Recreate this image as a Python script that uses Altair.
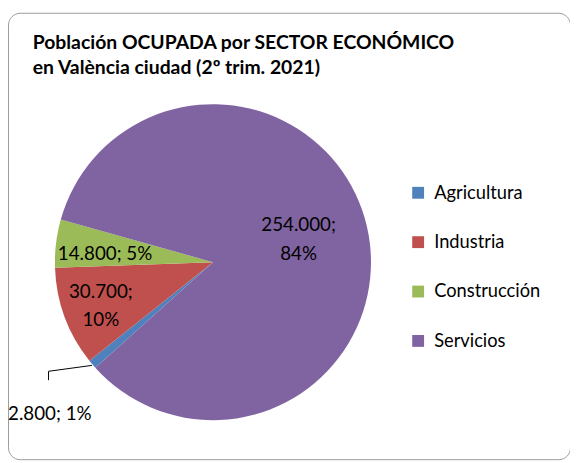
import math
import altair as alt
import pandas as pd

sectores = ["Agricultura", "Industria", "Construcción", "Servicios"]
ocupados = [2800, 30700, 14800, 254000]
colores = ["#4F81BD", "#C0504D", "#9BBB59", "#8064A2"]
titulo = ["Población OCUPADA por SECTOR ECONÓMICO", "en València ciudad (2º trim. 2021)"]
partidas = ["Industria", "Servicios"]  # labels shown on two lines

total = sum(ocupados)


def miles(v):
    return f"{v:,}".replace(",", ".")


etiquetas = []
for s, v in zip(sectores, ocupados):
    sep = ";\n" if s in partidas else "; "
    etiquetas.append(f"{miles(v)}{sep}{round(100 * v / total)}%")

df = pd.DataFrame({
    "sector": sectores,
    "ocupados": ocupados,
    "orden": list(range(len(sectores))),
    "etiqueta": etiquetas,
})

FONT = "Lato"
CX, CY, R = 207.5, 252.5, 160
T0 = math.radians(228.1)

base = alt.Chart(df).encode(
    theta=alt.Theta("ocupados:Q", stack=True,
                    scale=alt.Scale(range=[T0, T0 + 2 * math.pi], nice=False)),
    order=alt.Order("orden:Q"),
    x=alt.value(CX),
    y=alt.value(CY),
)

arc = base.mark_arc(radius=R).encode(
    color=alt.Color(
        "sector:N",
        scale=alt.Scale(domain=sectores, range=colores),
        legend=alt.Legend(
            title=None, orient="none", legendX=406, legendY=173,
            symbolType="square", symbolSize=144, symbolStrokeWidth=0,
            symbolOpacity=1, labelFont=FONT, labelFontSize=18.5,
            labelColor="#000000", rowPadding=31, labelOffset=7, padding=0,
        ),
    )
)


def etiqueta(sector, radio, dy):
    return base.mark_text(
        radius=radio, font=FONT, fontSize=19, color="#000000",
        lineBreak="\n", lineHeight=29, align="center", baseline="middle", dy=dy,
    ).encode(
        text=alt.condition(alt.datum.sector == sector, "etiqueta:N", alt.value(""))
    )


lab_serv = etiqueta("Servicios", 89, -17)
lab_cons = etiqueta("Construcción", 110, 5)
lab_ind = etiqueta("Industria", 121, -12)

lab_agr = alt.Chart(df).transform_filter(alt.datum.sector == "Agricultura").mark_text(
    font=FONT, fontSize=19, color="#000000", align="left", baseline="middle"
).encode(x=alt.value(0), y=alt.value(406), text="etiqueta:N")

lider1 = alt.Chart(df).transform_filter(alt.datum.sector == "Agricultura").mark_rule(
    color="#000000", strokeWidth=1
).encode(x=alt.value(85), y=alt.value(357), x2=alt.value(41), y2=alt.value(363))
lider2 = alt.Chart(df).transform_filter(alt.datum.sector == "Agricultura").mark_rule(
    color="#000000", strokeWidth=1
).encode(x=alt.value(41), y=alt.value(363), x2=alt.value(41), y2=alt.value(372))

tit = alt.Chart(pd.DataFrame({"t": ["\n".join(titulo)]})).mark_text(
    font=FONT, fontSize=19.6, fontWeight="bold", color="#000000",
    align="left", baseline="alphabetic", lineBreak="\n", lineHeight=25,
).encode(x=alt.value(25), y=alt.value(37), text="t:N")

chart = alt.layer(arc, lab_serv, lab_cons, lab_ind, lider1, lider2, lab_agr, tit).properties(
    width=569, height=452,
    autosize=alt.AutoSizeParams(type="none"),
    padding={"left": 0, "top": 2, "right": 0, "bottom": 0},
    background="white",
).configure_view(
    stroke="#9a9a9a", strokeWidth=1, cornerRadius=12
)

chart.save("out.html", embed_options={"renderer": "svg", "actions": False})
